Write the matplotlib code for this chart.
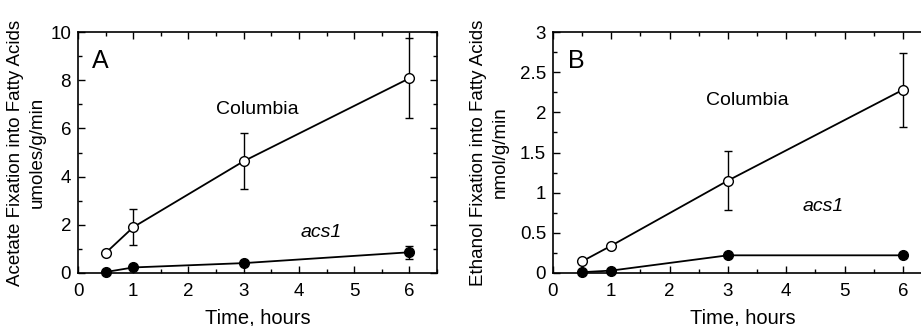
import matplotlib
matplotlib.use("Agg")
import matplotlib.pyplot as plt
from matplotlib.ticker import MultipleLocator

plt.rcParams['font.family'] = ['Liberation Sans', 'DejaVu Sans']

hours = [0.5, 1, 3, 6]

# panel A: acetate fixation, umoles/g/min
acetate_col = [0.83, 1.9, 4.64, 8.08]
acetate_col_err = [0.0, 0.75, 1.16, 1.66]
acetate_acs1 = [0.04, 0.23, 0.41, 0.86]
acetate_acs1_err = [0.0, 0.0, 0.0, 0.27]

# panel B: ethanol fixation, nmol/g/min
ethanol_col = [0.145, 0.34, 1.15, 2.28]
ethanol_col_err = [0.0, 0.0, 0.37, 0.46]
ethanol_acs1 = [0.01, 0.03, 0.22, 0.22]
ethanol_acs1_err = [0.0, 0.0, 0.0, 0.0]

fig = plt.figure(figsize=(9.21, 3.26), dpi=100)
axA = fig.add_axes([0.0847, 0.1626, 0.3898, 0.7392])
axB = fig.add_axes([0.6004, 0.1626, 0.4115, 0.7392])


def draw_panel(ax, col, col_err, acs, acs_err, ymax, ymaj, ymin, ylabel, letter,
               col_pos, acs_pos, ytick_labels, ypad):
    ax.errorbar(hours, col, yerr=col_err, color='black', lw=1.3, marker='o',
                ms=7, mfc='white', mec='black', mew=1, capsize=3, elinewidth=1,
                zorder=3, clip_on=False)
    ax.errorbar(hours, acs, yerr=acs_err, color='black', lw=1.3, marker='o',
                ms=7, mfc='black', mec='black', capsize=3, elinewidth=1,
                zorder=3, clip_on=False)
    ax.set_xlim(0, 6.5)
    ax.set_ylim(0, ymax)
    ax.xaxis.set_major_locator(MultipleLocator(1))
    ax.xaxis.set_minor_locator(MultipleLocator(0.5))
    ax.yaxis.set_major_locator(MultipleLocator(ymaj))
    ax.yaxis.set_minor_locator(MultipleLocator(ymin))
    ax.set_xticks([0, 1, 2, 3, 4, 5, 6])
    ax.set_yticks(ytick_labels[0])
    ax.set_yticklabels(ytick_labels[1])
    ax.tick_params(which='both', direction='in', top=True, right=True,
                   labelsize=13.5, width=1)
    ax.tick_params(which='major', length=5)
    ax.tick_params(which='minor', length=3)
    ax.tick_params(axis='x', which='major', pad=7)
    ax.tick_params(axis='y', which='major', pad=5)
    for s in ax.spines.values():
        s.set_linewidth(1.2)
    ax.set_xlabel('Time, hours', fontsize=14.5, labelpad=6)
    ax.set_ylabel(ylabel, fontsize=13.5, labelpad=ypad, linespacing=1.35)
    ax.text(0.04, 0.93, letter, transform=ax.transAxes, fontsize=18,
            va='top', ha='left')
    ax.text(col_pos[0], col_pos[1], 'Columbia', fontsize=14, ha='center',
            va='center')
    ax.text(acs_pos[0], acs_pos[1], 'acs1', fontsize=14, style='italic',
            ha='center', va='center')


draw_panel(axA, acetate_col, acetate_col_err, acetate_acs1, acetate_acs1_err,
           10, 2, 1, 'Acetate Fixation into Fatty Acids\numoles/g/min', 'A',
           (3.24, 6.8), (4.4, 1.7),
           ([0, 2, 4, 6, 8, 10], ['0', '2', '4', '6', '8', '10']), 3)
draw_panel(axB, ethanol_col, ethanol_col_err, ethanol_acs1, ethanol_acs1_err,
           3, 0.5, 0.25, 'Ethanol Fixation into Fatty Acids\nnmol/g/min', 'B',
           (3.34, 2.15), (4.63, 0.83),
           ([0, 0.5, 1, 1.5, 2, 2.5, 3], ['0', '0.5', '1', '1.5', '2', '2.5', '3']), 8)

fig.savefig('out.png', dpi=100)
